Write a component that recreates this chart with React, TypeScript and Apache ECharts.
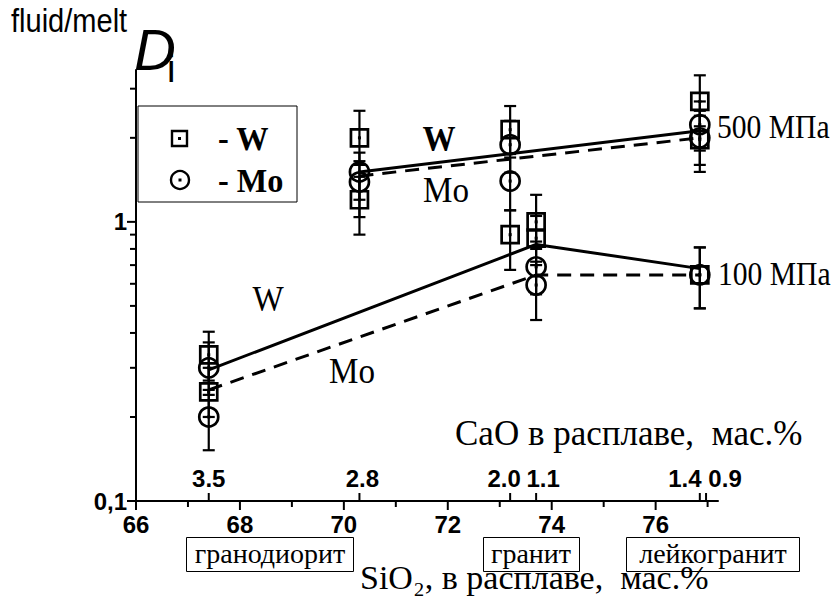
import React, { useEffect, useRef } from "react";
import * as echarts from "echarts";

// Axis tick values
const xMajorTicks = [66, 68, 70, 72, 74, 76];
const xMinorTicks = [67, 69, 71, 73, 75, 77];
const yMajorTicks = [0.1, 1];
const yMinorTicks = [0.2, 0.3, 0.4, 0.5, 0.6, 0.7, 0.8, 0.9, 2, 3];

// Upper scale: CaO content of each melt, placed at its SiO2 content
const caoSiO2 = [67.4, 70.3, 73.2, 73.7, 76.85, 76.97];
const caoLabels = ["3.5", "2.8", "2.0", "1.1", "1.4", "0.9"];

// Partition coefficients: [SiO2 wt.%, D, lower error, upper error]
const w500 = [
  [70.3, 2.0, 1.6, 2.5],
  [70.3, 1.2, 0.9, 1.45],
  [73.2, 2.14, 1.75, 2.6],
  [76.85, 2.7, 2.2, 3.35],
  [76.85, 1.97, 1.51, 2.4],
];
const mo500 = [
  [70.3, 1.51, 1.2, 1.77],
  [70.3, 1.39, 1.04, 1.65],
  [73.2, 1.89, 1.5, 2.3],
  [73.2, 1.4, 1.1, 1.7],
  [76.85, 2.23, 1.8, 2.7],
  [76.85, 2.0, 1.6, 2.5],
];
const w100 = [
  [67.4, 0.334, 0.27, 0.404],
  [67.4, 0.246, 0.2, 0.3],
  [73.2, 0.9, 0.673, 1.1],
  [73.7, 1.0, 0.8, 1.25],
  [73.7, 0.874, 0.7, 1.05],
  [76.85, 0.646, 0.49, 0.81],
];
const mo100 = [
  [67.4, 0.3, 0.24, 0.37],
  [67.4, 0.2, 0.152, 0.25],
  [73.7, 0.69, 0.55, 0.85],
  [73.7, 0.594, 0.445, 0.72],
  [76.85, 0.646, 0.49, 0.81],
];

// Mean trends
const w500Trend = [[70.3, 1.51], [76.85, 2.12]];
const mo500Trend = [[70.3, 1.46], [76.85, 2.0]];
const w100Trend = [[67.4, 0.295], [73.7, 0.83], [76.85, 0.68]];
const mo100Trend = [[67.4, 0.25], [73.7, 0.645], [76.85, 0.645]];

const SANS = "'Liberation Sans', Arial, sans-serif";
const SERIF = "'Liberation Serif', 'Times New Roman', serif";
const INK = "#000";

const caoLabelShift = [0, 3, -6, 7, -15, 19];

function tickSeries(data: number[][], dir: "down" | "left", len: number) {
  return {
    type: "custom",
    coordinateSystem: "cartesian2d",
    silent: true,
    clip: false,
    z: 5,
    data,
    renderItem: (_p: any, api: any) => {
      const p = api.coord([api.value(0), api.value(1)]);
      const shape =
        dir === "down"
          ? { x1: p[0], y1: p[1], x2: p[0], y2: p[1] + len }
          : { x1: p[0], y1: p[1], x2: p[0] - len, y2: p[1] };
      return { type: "line", shape, style: { stroke: INK, lineWidth: 2 } };
    },
  };
}

function pointSeries(name: string, data: number[][], kind: "square" | "circle") {
  return {
    name,
    type: "custom",
    coordinateSystem: "cartesian2d",
    silent: true,
    clip: false,
    z: 4,
    encode: { x: 0, y: 1 },
    data,
    renderItem: (_p: any, api: any) => {
      const x = api.value(0);
      const c = api.coord([x, api.value(1)]);
      const lo = api.coord([x, api.value(2)]);
      const hi = api.coord([x, api.value(3)]);
      const st = { stroke: INK, lineWidth: 2.2, fill: "none" };
      const children: any[] = [
        { type: "line", shape: { x1: c[0], y1: lo[1], x2: c[0], y2: hi[1] }, style: st },
        { type: "line", shape: { x1: c[0] - 6, y1: lo[1], x2: c[0] + 6, y2: lo[1] }, style: st },
        { type: "line", shape: { x1: c[0] - 6, y1: hi[1], x2: c[0] + 6, y2: hi[1] }, style: st },
      ];
      if (kind === "square") {
        children.push({
          type: "rect",
          shape: { x: c[0] - 8.5, y: c[1] - 8.5, width: 17, height: 17 },
          style: { stroke: INK, lineWidth: 2.7, fill: "none" },
        });
      } else {
        children.push({
          type: "circle",
          shape: { cx: c[0], cy: c[1], r: 9.5 },
          style: { stroke: INK, lineWidth: 2.7, fill: "none" },
        });
      }
      children.push({
        type: "rect",
        shape: { x: c[0] - 1.5, y: c[1] - 1.5, width: 3, height: 3 },
        style: { fill: INK },
      });
      return { type: "group", children };
    },
  };
}

function trendSeries(name: string, data: number[][], dashed: boolean) {
  return {
    name,
    type: "line",
    data,
    symbol: "none",
    silent: true,
    z: 3,
    lineStyle: { color: INK, width: 3, type: dashed ? [14, 9] : "solid" },
  };
}

function txt(
  text: string,
  x: number,
  y: number,
  font: string,
  align = "left",
  scaleX = 1
) {
  return {
    type: "text",
    x,
    y,
    scaleX,
    silent: true,
    style: { text, font, fill: INK, align, verticalAlign: "middle" },
  };
}

function box(x: number, y: number, w: number, h: number) {
  return {
    type: "rect",
    silent: true,
    shape: { x, y, width: w, height: h },
    style: { fill: "none", stroke: INK, lineWidth: 1 },
  };
}

export default function App() {
  const ref = useRef<HTMLDivElement>(null);

  useEffect(() => {
    document.body.style.margin = "0";
    if (!ref.current) return;
    const chart = echarts.init(ref.current, undefined, { renderer: "svg" });

    const option: any = {
      animation: false,
      backgroundColor: "#fff",
      grid: { left: 136, right: 122, top: 70, bottom: 96, containLabel: false },
      xAxis: {
        type: "value",
        min: 66,
        max: 77.2,
        interval: 2,
        splitLine: { show: false },
        axisTick: { show: false },
        axisLine: { onZero: false, lineStyle: { color: INK, width: 2 } },
        axisLabel: {
          color: INK,
          fontFamily: SANS,
          fontWeight: "bold",
          fontSize: 24,
          margin: 11,
          showMaxLabel: false,
          formatter: (v: number) => (xMajorTicks.includes(v) ? String(v) : ""),
        },
      },
      yAxis: {
        type: "log",
        logBase: 10,
        min: 0.1,
        max: 3.5,
        splitLine: { show: false },
        axisTick: { show: false },
        axisLine: { show: true, lineStyle: { color: INK, width: 2 } },
        axisLabel: {
          color: INK,
          fontFamily: SANS,
          fontWeight: "bold",
          fontSize: 24,
          margin: 9,
          formatter: (v: number) =>
            Math.abs(v - 1) < 1e-9 ? "1" : Math.abs(v - 0.1) < 1e-9 ? "0,1" : "",
        },
      },
      series: [
        tickSeries(xMajorTicks.map((v) => [v, 0.1]), "down", 9),
        tickSeries(xMinorTicks.map((v) => [v, 0.1]), "down", 6),
        tickSeries(yMajorTicks.map((v) => [66, v]), "left", 9),
        tickSeries(yMinorTicks.map((v) => [66, v]), "left", 6),
        {
          type: "custom",
          coordinateSystem: "cartesian2d",
          silent: true,
          clip: false,
          z: 5,
          data: caoSiO2.map((x, i) => [x, 0.1, i]),
          renderItem: (_p: any, api: any) => {
            const p = api.coord([api.value(0), api.value(1)]);
            const i = api.value(2);
            return {
              type: "group",
              children: [
                { type: "line", shape: { x1: p[0], y1: p[1], x2: p[0], y2: p[1] - 8 }, style: { stroke: INK, lineWidth: 2 } },
                {
                  type: "text",
                  style: {
                    text: caoLabels[i],
                    x: p[0] + caoLabelShift[i],
                    y: p[1] - 23,
                    font: `bold 24px ${SANS}`,
                    fill: INK,
                    align: "center",
                    verticalAlign: "middle",
                  },
                },
              ],
            };
          },
        },
        trendSeries("W 500", w500Trend, false),
        trendSeries("Mo 500", mo500Trend, true),
        trendSeries("W 100", w100Trend, false),
        trendSeries("Mo 100", mo100Trend, true),
        pointSeries("W 500 pts", w500, "square"),
        pointSeries("Mo 500 pts", mo500, "circle"),
        pointSeries("W 100 pts", w100, "square"),
        pointSeries("Mo 100 pts", mo100, "circle"),
      ],
      graphic: [
        // axis title
        txt("fluid/melt", 11, 21, `33px ${SANS}`, "left", 0.88),
        txt("D", 134, 49, `italic 58px ${SANS}`),
        txt("i", 167, 69, `38px ${SANS}`),
        // legend
        {
          type: "rect",
          silent: true,
          shape: { x: 138, y: 106, width: 159, height: 96 },
          style: { fill: "#fff", stroke: INK, lineWidth: 1 },
        },
        {
          type: "rect",
          silent: true,
          shape: { x: 172, y: 131, width: 15, height: 15 },
          style: { fill: "none", stroke: INK, lineWidth: 2.4 },
        },
        { type: "rect", silent: true, shape: { x: 178, y: 137, width: 3, height: 3 }, style: { fill: INK } },
        {
          type: "circle",
          silent: true,
          shape: { cx: 180, cy: 180, r: 9 },
          style: { fill: "none", stroke: INK, lineWidth: 2.4 },
        },
        { type: "rect", silent: true, shape: { x: 178.5, y: 178.5, width: 3, height: 3 }, style: { fill: INK } },
        txt("- W", 218, 138, `bold 34px ${SERIF}`, "left", 0.95),
        txt("- Mo", 218, 180, `bold 34px ${SERIF}`, "left", 0.95),
        // curve labels
        txt("W", 439, 139, `bold 36px ${SERIF}`, "center", 0.92),
        txt("Mo", 446, 190, `36px ${SERIF}`, "center", 0.92),
        txt("W", 268, 299, `36px ${SERIF}`, "center", 0.92),
        txt("Mo", 352, 371, `36px ${SERIF}`, "center", 0.92),
        txt("500 МПа", 717, 127, `34px ${SERIF}`, "left", 0.87),
        txt("100 МПа", 718, 274, `34px ${SERIF}`, "left", 0.87),
        // axis titles
        txt("CaO в расплаве,  мас.%", 455, 433, `35px ${SERIF}`),
        txt("SiO₂, в расплаве,  мас.%", 360, 577, `34px ${SERIF}`),
        // rock type boxes
        box(186.5, 537.5, 167, 34),
        txt("гранодиорит", 270, 553, `28px ${SERIF}`, "center"),
        box(483.5, 537.5, 96, 34),
        txt("гранит", 531, 553, `28px ${SERIF}`, "center"),
        box(626.5, 537.5, 173, 34),
        txt("лейкогранит", 713, 553, `28px ${SERIF}`, "center"),
      ],
    };

    chart.setOption(option);
    return () => chart.dispose();
  }, []);

  return <div ref={ref} style={{ width: 840, height: 597 }} />;
}
